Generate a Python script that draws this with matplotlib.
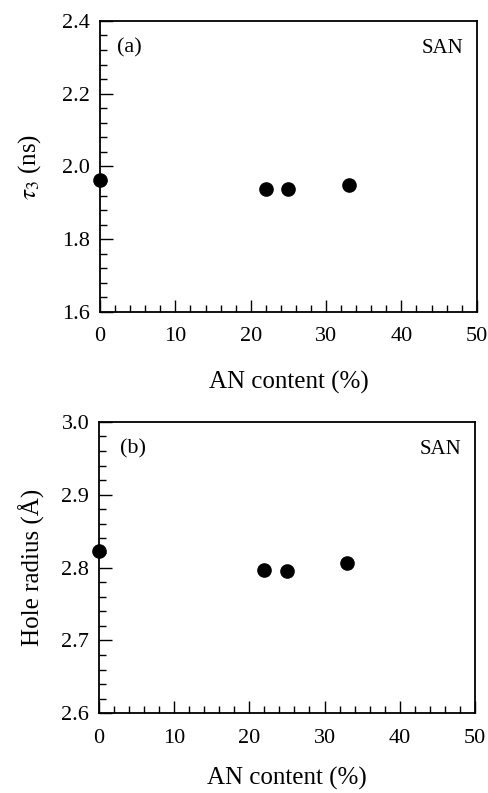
import numpy as np
import matplotlib.pyplot as plt
from matplotlib.ticker import MultipleLocator

# data
an_content = [0, 22, 25, 33]
tau3 = [1.963, 1.938, 1.938, 1.949]
hole_radius = [2.823, 2.797, 2.796, 2.806]

plt.rcParams['font.family'] = ['Liberation Serif', 'DejaVu Serif']
plt.rcParams['mathtext.fontset'] = 'stix'

fig = plt.figure(figsize=(4.88, 7.93), dpi=100)
ax_a = fig.add_axes([0.205, 0.6066, 0.772, 0.367])
ax_b = fig.add_axes([0.203, 0.1005, 0.770, 0.3675])


def style_axis(ax, y_lo, y_hi, y_major, y_minor, xpad=18):
    ax.set_xlim(0, 50)
    ax.set_ylim(y_lo, y_hi)
    ax.xaxis.set_major_locator(MultipleLocator(10))
    ax.xaxis.set_minor_locator(MultipleLocator(2))
    ax.yaxis.set_major_locator(MultipleLocator(y_major))
    ax.yaxis.set_minor_locator(MultipleLocator(y_minor))
    ax.tick_params(which='both', direction='in', top=False, right=False,
                   labelsize=16, width=1.0)
    ax.tick_params(axis='x', which='major', length=9, pad=11)
    ax.tick_params(axis='y', which='major', length=9, pad=7)
    ax.tick_params(which='minor', length=5)
    for s in ax.spines.values():
        s.set_linewidth(1.3)
    ax.set_xlabel("AN content (%)", fontsize=18, labelpad=xpad)


ax_a.plot(an_content, tau3, "ko", markersize=9.5, clip_on=False)
style_axis(ax_a, 1.6, 2.4, 0.2, 0.04)
ax_a.yaxis.set_major_formatter(plt.FuncFormatter(lambda v, p: "%.1f" % v))
ax_a.set_ylabel(r"$\tau_3$ (ns)", fontsize=18, labelpad=14)
ax_a.text(0.045, 0.89, "(a)", transform=ax_a.transAxes, fontsize=16)
ax_a.text(0.965, 0.89, "SAN", transform=ax_a.transAxes, fontsize=15, ha="right")

ax_b.plot(an_content, hole_radius, "ko", markersize=9.5, clip_on=False)
style_axis(ax_b, 2.6, 3.0, 0.1, 0.02, xpad=14)
ax_b.yaxis.set_major_formatter(plt.FuncFormatter(lambda v, p: "%.1f" % v))
ax_b.set_ylabel("Hole radius (Å)", fontsize=18, labelpad=12)
ax_b.text(0.055, 0.89, "(b)", transform=ax_b.transAxes, fontsize=16)
ax_b.text(0.965, 0.89, "SAN", transform=ax_b.transAxes, fontsize=15, ha="right")

fig.savefig("out.png", dpi=100)
